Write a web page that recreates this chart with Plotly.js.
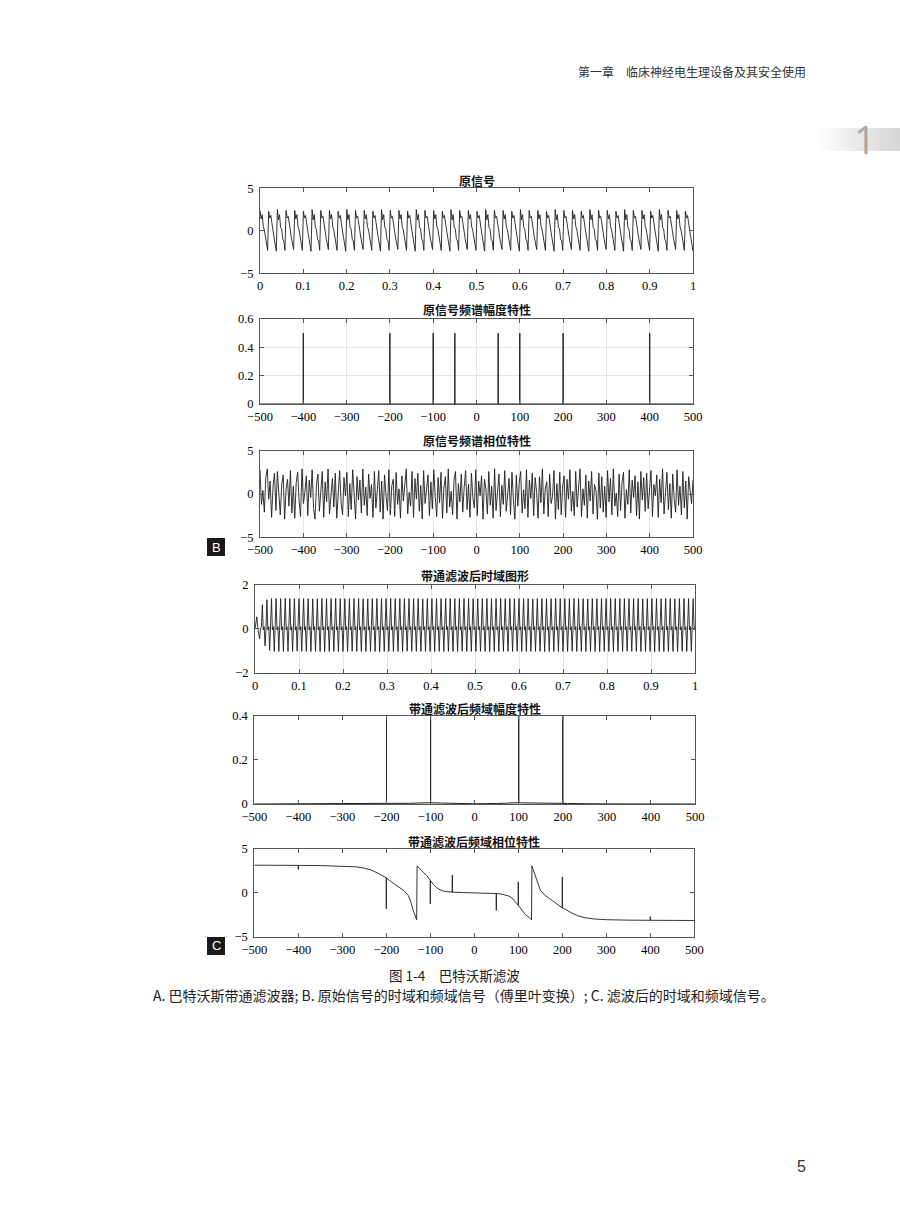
<!DOCTYPE html>
<html>
<head>
<meta charset="utf-8">
<script src="https://cdn.plot.ly/plotly-3.0.1.min.js"></script>
<style>html,body{margin:0;padding:0;background:#fff;}#chart{width:900px;height:1222px;}</style>
</head>
<body>
<div id="chart"></div>
<script>
// ---------------- DATA ----------------
// 1. 原信号 (time domain, 0..1 s)
const origSignal = [
2.4,1.4,1.9,0.5,0.1,-0.9,-1.3,-2.3, 2.3,1.5,1.8,0.6,0.0,-0.8,-1.4,-2.4,
2.5,1.3,1.9,0.4,0.2,-1.0,-1.2,-2.3, 2.4,1.5,1.7,0.5,0.0,-0.9,-1.4,-2.2,
2.4,1.4,1.9,0.5,0.1,-0.9,-1.3,-2.3, 2.3,1.5,1.8,0.6,0.0,-0.8,-1.4,-2.4,
2.5,1.3,1.9,0.4,0.2,-1.0,-1.2,-2.3, 2.4,1.5,1.7,0.5,0.0,-0.9,-1.4,-2.2,
2.4,1.4,1.9,0.5,0.1,-0.9,-1.3,-2.3, 2.3,1.5,1.8,0.6,0.0,-0.8,-1.4,-2.4,
2.5,1.3,1.9,0.4,0.2,-1.0,-1.2,-2.3, 2.4,1.5,1.7,0.5,0.0,-0.9,-1.4,-2.2,
2.4,1.4,1.9,0.5,0.1,-0.9,-1.3,-2.3, 2.3,1.5,1.8,0.6,0.0,-0.8,-1.4,-2.4,
2.5,1.3,1.9,0.4,0.2,-1.0,-1.2,-2.3, 2.4,1.5,1.7,0.5,0.0,-0.9,-1.4,-2.2,
2.4,1.4,1.9,0.5,0.1,-0.9,-1.3,-2.3, 2.3,1.5,1.8,0.6,0.0,-0.8,-1.4,-2.4,
2.5,1.3,1.9,0.4,0.2,-1.0,-1.2,-2.3, 2.4,1.5,1.7,0.5,0.0,-0.9,-1.4,-2.2,
2.4,1.4,1.9,0.5,0.1,-0.9,-1.3,-2.3, 2.3,1.5,1.8,0.6,0.0,-0.8,-1.4,-2.4,
2.5,1.3,1.9,0.4,0.2,-1.0,-1.2,-2.3, 2.4,1.5,1.7,0.5,0.0,-0.9,-1.4,-2.2,
2.4,1.4,1.9,0.5,0.1,-0.9,-1.3,-2.3, 2.3,1.5,1.8,0.6,0.0,-0.8,-1.4,-2.4,
2.5,1.3,1.9,0.4,0.2,-1.0,-1.2,-2.3, 2.4,1.5,1.7,0.5,0.0,-0.9,-1.4,-2.2,
2.4,1.4,1.9,0.5,0.1,-0.9,-1.3,-2.3, 2.3,1.5,1.8,0.6,0.0,-0.8,-1.4,-2.4,
2.5,1.3,1.9,0.4,0.2,-1.0,-1.2,-2.3, 2.4,1.5,1.7,0.5,0.0,-0.9,-1.4,-2.2,
2.4,1.4,1.9,0.5,0.1,-0.9,-1.3,-2.3, 2.3,1.5,1.8,0.6,0.0,-0.8,-1.4,-2.4,
2.5,1.3,1.9,0.4,0.2,-1.0,-1.2,-2.3, 2.4,1.5,1.7,0.5,0.0,-0.9,-1.4,-2.2,
2.4,1.4,1.9,0.5,0.1,-0.9,-1.3,-2.3, 2.3,1.5,1.8,0.6,0.0,-0.8,-1.4,-2.4,
2.5,1.3,1.9,0.4,0.2,-1.0,-1.2,-2.3, 2.4,1.5,1.7,0.5,0.0,-0.9,-1.4,-2.2,
2.4,1.4,1.9,0.5,0.1,-0.9,-1.3,-2.3, 2.3,1.5,1.8,0.6,0.0,-0.8,-1.4,-2.4,
2.5,1.3,1.9,0.4,0.2,-1.0,-1.2,-2.3, 2.4,1.5,1.7,0.5,0.0,-0.9,-1.4,-2.2,
2.4,1.4,1.9,0.5,0.1,-0.9,-1.3,-2.3, 2.3,1.5,1.8,0.6,0.0,-0.8,-1.4,-2.4,
2.5,1.3,1.9,0.4,0.2,-1.0,-1.2,-2.3, 2.4,1.5,1.7,0.5,0.0,-0.9,-1.4,-2.2,
2.4,1.4,1.9,0.5,0.1,-0.9,-1.3,-2.3, 2.3,1.5,1.8,0.6,0.0,-0.8,-1.4,-2.4
];

// 2. 原信号频谱幅度特性 (spectral lines)
const origSpecFreq = [-400, -200, -100, -50, 50, 100, 200, 400];
const origSpecAmp  = [0.5, 0.5, 0.5, 0.5, 0.5, 0.5, 0.5, 0.5];

// 3. 原信号频谱相位特性 (-500..500 Hz)
const origPhase = [
2.8,-1.2,0.4,-2.1,1.9,2.9,-0.6,1.5,-2.7,0.8,2.4,-1.9,2.6,-0.3,-2.4,1.1,2.2,-2.9,0.5,1.7,
-1.4,2.7,-2.2,0.9,-2.8,1.3,2.5,-0.8,-2.6,2.9,-1.1,0.2,2.1,-2.5,1.6,-0.4,2.8,-1.7,-2.9,1.0,
2.3,-2.0,0.7,2.6,-2.7,1.4,-0.9,2.9,-2.3,0.3,1.8,-1.5,2.4,-2.8,0.6,2.7,-1.0,-2.4,1.9,-0.2,
2.5,-2.6,1.2,-1.8,2.8,0.1,-2.9,2.0,-0.7,1.6,-2.2,2.9,-1.3,0.8,-2.5,2.3,-0.5,1.1,-2.7,2.6,
-1.6,0.4,2.7,-2.1,1.5,-2.9,2.2,-0.1,-1.9,2.8,-2.4,0.9,1.7,-2.6,2.5,-1.2,0.6,-2.8,2.1,-0.8,
1.3,2.9,-2.3,0.2,-1.4,2.6,-2.7,1.8,-0.6,2.4,-2.0,1.0,-2.9,2.7,-1.1,0.5,2.2,-2.5,1.4,-1.7,
2.8,-0.3,-2.6,1.9,-1.0,2.5,-2.8,0.7,2.0,-2.2,2.9,-1.5,0.3,-2.4,1.6,2.6,-2.9,1.2,-0.9,2.3,
-2.1,0.8,2.7,-1.8,1.1,-2.7,2.4,-0.4,-1.6,2.8,-2.5,1.5,-0.2,2.1,-2.9,1.7,0.6,-2.3,2.6,-1.3,
0.9,-2.8,2.9,-1.9,0.4,2.3,-2.6,1.0,-1.2,2.7,-2.0,0.1,1.8,-2.4,2.5,-0.7,-2.9,2.2,-1.4,1.3,
2.6,-2.2,0.5,-1.7,2.8,-2.7,1.6,-0.5,2.4,-2.5,1.9,0.2,-2.8,2.0,-1.0,2.9,-2.3,0.7,1.4,-2.6,
2.3,-1.1,-0.3,2.7,-2.9,1.2,-1.8,2.5,-2.4,0.8,2.1,-2.7,1.7,-0.6,2.8,-2.0,0.3,-2.5,2.6,-1.5,
1.0,2.9,-2.6,0.6,-1.3,2.2,-2.8,1.5,-0.8,2.6,-2.3,1.1,0.4,-2.9,2.4,-1.6,2.0,-2.1,0.9,-2.7,
2.7,-0.9,1.8,-2.4,2.9,-1.4,0.1,-2.6,2.3,-1.9,1.3,2.5,-2.8,0.5,-1.2,2.8,-2.2,1.6,-0.4,2.1,
-2.5,1.4,-2.9,2.6,-0.7,1.9,-2.0,2.4,-1.7,0.6,2.7,-2.6,1.1,-0.2,2.2,-2.7,1.7,-1.0,2.9,-2.3,
0.8,2.5,-1.8,1.2,-2.8,2.3,-0.6,-2.1,2.8,-1.3,0.9,-2.4,2.6,-1.6,1.5,-2.9,2.0,0.3,-1.1,1.6
];

// 4. 带通滤波后时域图形 (0..1 s, 2 ms steps)
const filtSignal = [
0,0.3,0.55,0.05,-0.15,-0.45,0,0.1,1.1,-0.05,0.1,-0.78,0.05,1.33,-0.05,0.1,-0.98,0.05,
1.38,-.05,.1,-1.03,.05,1.38,-.05,.1,-1.03,.05,1.38,-.05,.1,-1.03,.05,1.39,-.05,.1,-1.03,.05,
1.38,-.05,.1,-1.03,.05,1.38,-.05,.1,-1.02,.05,1.38,-.05,.1,-1.03,.05,1.38,-.05,.1,-1.03,.05,
1.38,-.05,.1,-1.03,.05,1.37,-.05,.1,-1.03,.05,1.38,-.05,.1,-1.03,.05,1.38,-.05,.1,-1.04,.05,
1.38,-.05,.1,-1.03,.05,1.38,-.05,.1,-1.03,.05,1.39,-.05,.1,-1.03,.05,1.38,-.05,.1,-1.03,.05,
1.38,-.05,.1,-1.03,.05,1.38,-.05,.1,-1.02,.05,1.38,-.05,.1,-1.03,.05,1.38,-.05,.1,-1.03,.05,
1.38,-.05,.1,-1.03,.05,1.37,-.05,.1,-1.03,.05,1.38,-.05,.1,-1.03,.05,1.38,-.05,.1,-1.04,.05,
1.38,-.05,.1,-1.03,.05,1.38,-.05,.1,-1.03,.05,1.39,-.05,.1,-1.03,.05,1.38,-.05,.1,-1.03,.05,
1.38,-.05,.1,-1.03,.05,1.38,-.05,.1,-1.02,.05,1.38,-.05,.1,-1.03,.05,1.38,-.05,.1,-1.03,.05,
1.38,-.05,.1,-1.03,.05,1.37,-.05,.1,-1.03,.05,1.38,-.05,.1,-1.03,.05,1.38,-.05,.1,-1.04,.05,
1.38,-.05,.1,-1.03,.05,1.38,-.05,.1,-1.03,.05,1.39,-.05,.1,-1.03,.05,1.38,-.05,.1,-1.03,.05,
1.38,-.05,.1,-1.03,.05,1.38,-.05,.1,-1.02,.05,1.38,-.05,.1,-1.03,.05,1.38,-.05,.1,-1.03,.05,
1.38,-.05,.1,-1.03,.05,1.37,-.05,.1,-1.03,.05,1.38,-.05,.1,-1.03,.05,1.38,-.05,.1,-1.04,.05,
1.38,-.05,.1,-1.03,.05,1.38,-.05,.1,-1.03,.05,1.39,-.05,.1,-1.03,.05,1.38,-.05,.1,-1.03,.05,
1.38,-.05,.1,-1.03,.05,1.38,-.05,.1,-1.02,.05,1.38,-.05,.1,-1.03,.05,1.38,-.05,.1,-1.03,.05,
1.38,-.05,.1,-1.03,.05,1.37,-.05,.1,-1.03,.05,1.38,-.05,.1,-1.03,.05,1.38,-.05,.1,-1.04,.05,
1.38,-.05,.1,-1.03,.05,1.38,-.05,.1,-1.03,.05,1.39,-.05,.1,-1.03,.05,1.38,-.05,.1,-1.03,.05,
1.38,-.05,.1,-1.03,.05,1.38,-.05,.1,-1.02,.05,1.38,-.05,.1,-1.03,.05,1.38,-.05,.1,-1.03,.05,
1.38,-.05,.1,-1.03,.05,1.37,-.05,.1,-1.03,.05,1.38,-.05,.1,-1.03,.05,1.38,-.05,.1,-1.04,.05,
1.38,-.05,.1,-1.03,.05,1.38,-.05,.1,-1.03,.05,1.39,-.05,.1,-1.03,.05,1.38,-.05,.1,-1.03,.05,
1.38,-.05,.1,-1.03,.05,1.38,-.05,.1,-1.02,.05,1.38,-.05,.1,-1.03,.05,1.38,-.05,.1,-1.03,.05,
1.38,-.05,.1,-1.03,.05,1.37,-.05,.1,-1.03,.05,1.38,-.05,.1,-1.03,.05,1.38,-.05,.1,-1.04,.05,
1.38,-.05,.1,-1.03,.05,1.38,-.05,.1,-1.03,.05,1.39,-.05,.1,-1.03,.05,1.38,-.05,.1,-1.03,.05,
1.38,-.05,.1,-1.03,.05,1.38,-.05,.1,-1.02,.05,1.38,-.05,.1,-1.03,.05,1.38,-.05,.1,-1.03,.05,
1.38,-.05,.1
];

// 5. 带通滤波后频域幅度特性
const filtSpecFreq = [-500,-300,-250,-210,-200,-200,-200,-150,-110,-100,-100,-100,-90,-50,0,50,90,100,100,100,110,150,200,200,200,210,250,300,500];
const filtSpecAmp  = [0,0.0005,0.001,0.002,0.003,0.5,0.003,0.003,0.005,0.006,0.5,0.006,0.005,0.002,0.001,0.002,0.005,0.006,0.5,0.006,0.005,0.003,0.003,0.5,0.003,0.002,0.001,0.0005,0];

// 6. 带通滤波后频域相位特性
const filtPhaseFreq = [-500,-450,-400,-400,-400,-350,-300,-270,-250,-235,-220,-210,-200,-200,-200,-190,-180,-170,-160,-150,-145,-140,-136,-132,-131,
  -130,-125,-116,-108,-100,-100,-100,-93,-86,-78,-70,-60,-50,-50,-50,-25,0,25,50,50,50,60,70,78,86,93,100,100,100,108,116,125,130,
  131,132,136,140,145,150,160,170,180,190,200,200,200,210,220,235,250,270,300,350,400,400,400,450,500];
const filtPhaseVal = [3.13,3.12,3.11,2.65,3.11,3.09,3.04,2.95,2.8,2.6,2.25,1.95,1.7,-1.8,1.7,1.3,0.95,0.6,0.25,-0.3,-0.9,-1.8,-2.4,-2.9,-3.05,
  3.05,2.8,2.45,1.95,1.4,-1.25,1.4,0.95,0.6,0.35,0.2,0.12,0.08,2.0,0.08,0.03,0,-0.03,-0.08,-2.0,-0.08,-0.12,-0.2,-0.35,-0.6,-0.95,-1.4,1.25,-1.4,-1.95,-2.45,-2.8,-3.05,
  3.05,2.9,2.4,1.8,0.9,0.3,-0.25,-0.6,-0.95,-1.3,-1.7,1.8,-1.7,-1.95,-2.25,-2.6,-2.8,-2.95,-3.04,-3.09,-3.11,-2.7,-3.11,-3.12,-3.13];

// tick labels
const timeTickVals = [0,0.1,0.2,0.3,0.4,0.5,0.6,0.7,0.8,0.9,1];
const timeTickText = ['0','0.1','0.2','0.3','0.4','0.5','0.6','0.7','0.8','0.9','1'];
const freqTickVals = [-500,-400,-300,-200,-100,0,100,200,300,400,500];
const freqTickText = ['\u2212500','\u2212400','\u2212300','\u2212200','\u2212100','0','100','200','300','400','500'];

const titles = ['原信号','原信号频谱幅度特性','原信号频谱相位特性','带通滤波后时域图形','带通滤波后频域幅度特性','带通滤波后频域相位特性'];

// ---------------- LAYOUT ----------------
const W = 900, H = 1222;
const fx = p => p / W;
const fy = p => 1 - p / H;
// plot boxes in page pixels: [left, right, top, bottom]
const boxes = [
  [260, 693, 188.3, 273.3],
  [260, 693, 319, 404],
  [260, 693, 450.7, 537.3],
  [255, 695, 585, 672.7],
  [254.3, 695, 715.7, 804],
  [254.3, 694.3, 848.7, 937]
];
const titleY = [180, 309, 440, 575, 708, 841];

const tickFont = {family: 'Liberation Serif, Times New Roman, serif', size: 12.5, color: '#000'};
function xAxis(i, vals, text, range, grid) {
  const b = boxes[i];
  return {domain: [fx(b[0]), fx(b[1])], range: range, tickmode: 'array', tickvals: vals, ticktext: text,
    ticks: 'inside', ticklen: 4, tickwidth: 1, tickcolor: '#555', showline: true, linecolor: '#555', linewidth: 1,
    mirror: 'ticks', showgrid: grid, gridcolor: '#e6e6e6', gridwidth: 1, zeroline: false, tickfont: tickFont,
    anchor: i === 0 ? 'y' : 'y' + (i + 1), fixedrange: true, ticklabelstandoff: 1};
}
function yAxis(i, vals, text, range, grid) {
  const b = boxes[i];
  return {domain: [fy(b[3]), fy(b[2])], range: range, tickmode: 'array', tickvals: vals, ticktext: text,
    ticks: 'inside', ticklen: 4, tickwidth: 1, tickcolor: '#555', showline: true, linecolor: '#555', linewidth: 1,
    mirror: 'ticks', showgrid: grid, gridcolor: '#e6e6e6', gridwidth: 1, zeroline: false, tickfont: tickFont,
    anchor: i === 0 ? 'x' : 'x' + (i + 1), fixedrange: true, ticklabelstandoff: 3};
}

// spectral line trace built from the spectral arrays
const specX = [-500], specY = [0];
origSpecFreq.forEach((f, k) => { specX.push(f, f, f); specY.push(0, origSpecAmp[k], 0); });
specX.push(500); specY.push(0);

const lineStyle = {color: '#1e1e1e', width: 0.9};
const data = [
  {type: 'scatter', mode: 'lines', x0: 0, dx: 1 / (origSignal.length - 1), y: origSignal, xaxis: 'x', yaxis: 'y', line: lineStyle, hoverinfo: 'skip'},
  {type: 'scatter', mode: 'lines', x: specX, y: specY, xaxis: 'x2', yaxis: 'y2', line: {color: '#1e1e1e', width: 1}, hoverinfo: 'skip'},
  {type: 'scatter', mode: 'lines', x0: -500, dx: 1000 / (origPhase.length - 1), y: origPhase, xaxis: 'x3', yaxis: 'y3', line: lineStyle, hoverinfo: 'skip'},
  {type: 'scatter', mode: 'lines', x0: 0, dx: 1 / (filtSignal.length - 1), y: filtSignal, xaxis: 'x4', yaxis: 'y4', line: lineStyle, hoverinfo: 'skip'},
  {type: 'scatter', mode: 'lines', x: filtSpecFreq, y: filtSpecAmp, xaxis: 'x5', yaxis: 'y5', line: {color: '#1e1e1e', width: 1}, hoverinfo: 'skip'},
  {type: 'scatter', mode: 'lines', x: filtPhaseFreq, y: filtPhaseVal, xaxis: 'x6', yaxis: 'y6', line: {color: '#1e1e1e', width: 0.9}, hoverinfo: 'skip'}
];

const cjk = 'Noto Sans CJK SC, sans-serif';
const annotations = titles.map((t, i) => ({
  text: t, xref: 'paper', yref: 'paper', x: fx((boxes[i][0] + boxes[i][1]) / 2), y: fy(titleY[i]),
  xanchor: 'center', yanchor: 'middle', showarrow: false, font: {family: cjk, size: 12, color: '#111', weight: 'bold'}
}));
annotations.push(
  {text: '第一章\u3000临床神经电生理设备及其安全使用', xref: 'paper', yref: 'paper', x: fx(576), y: fy(72), xanchor: 'left', yanchor: 'middle', showarrow: false, font: {family: cjk, size: 12, color: '#333'}},
  {text: '1', xref: 'paper', yref: 'paper', x: fx(865), y: fy(139), xanchor: 'center', yanchor: 'middle', showarrow: false, font: {family: 'Open Sans, sans-serif', size: 38, color: '#a9a9a9', weight: 400}},
  {text: 'B', xref: 'paper', yref: 'paper', x: fx(216), y: fy(547), xanchor: 'center', yanchor: 'middle', showarrow: false, font: {family: 'Liberation Sans, sans-serif', size: 13, color: '#fff'}},
  {text: 'C', xref: 'paper', yref: 'paper', x: fx(216), y: fy(946), xanchor: 'center', yanchor: 'middle', showarrow: false, font: {family: 'Liberation Sans, sans-serif', size: 13, color: '#fff'}},
  {text: '图 1-4\u3000巴特沃斯滤波', xref: 'paper', yref: 'paper', x: fx(454), y: fy(975), xanchor: 'center', yanchor: 'middle', showarrow: false, font: {family: cjk, size: 13.5, color: '#222'}},
  {text: 'A. 巴特沃斯带通滤波器; B. 原始信号的时域和频域信号（傅里叶变换）; C. 滤波后的时域和频域信号。', xref: 'paper', yref: 'paper', x: fx(464), y: fy(995), xanchor: 'center', yanchor: 'middle', showarrow: false, font: {family: cjk, size: 14, color: '#222'}},
  {text: '5', xref: 'paper', yref: 'paper', x: fx(801), y: fy(1166), xanchor: 'center', yanchor: 'middle', showarrow: false, font: {family: 'Liberation Sans, sans-serif', size: 16, color: '#333'}}
);

const shapes = [];
// gradient tab (page decoration)
const tabL = 817, tabR = 900, steps = 24;
for (let s = 0; s < steps; s++) {
  const g = Math.round(253 - (253 - 214) * (s / (steps - 1)));
  shapes.push({type: 'rect', xref: 'paper', yref: 'paper', layer: 'below',
    x0: fx(tabL + (tabR - tabL) * s / steps), x1: fx(tabL + (tabR - tabL) * (s + 1) / steps + 0.5),
    y0: fy(151), y1: fy(128), line: {width: 0}, fillcolor: `rgb(${g},${g},${g})`});
}
shapes.push(
  {type: 'rect', xref: 'paper', yref: 'paper', x0: fx(207), x1: fx(225), y0: fy(556), y1: fy(538), line: {width: 0}, fillcolor: '#1a1a1a'},
  {type: 'rect', xref: 'paper', yref: 'paper', x0: fx(207), x1: fx(225), y0: fy(955), y1: fy(937), line: {width: 0}, fillcolor: '#1a1a1a'}
);

const layout = {
  width: W, height: H, margin: {l: 0, r: 0, t: 0, b: 0}, paper_bgcolor: '#fff', plot_bgcolor: '#fff', showlegend: false,
  xaxis:  xAxis(0, timeTickVals, timeTickText, [0, 1], false),
  yaxis:  yAxis(0, [-5, 0, 5], ['\u22125', '0', '5'], [-5, 5], false),
  xaxis2: xAxis(1, freqTickVals, freqTickText, [-500, 500], true),
  yaxis2: yAxis(1, [0, 0.2, 0.4, 0.6], ['0', '0.2', '0.4', '0.6'], [0, 0.6], true),
  xaxis3: xAxis(2, freqTickVals, freqTickText, [-500, 500], true),
  yaxis3: yAxis(2, [-5, 0, 5], ['\u22125', '0', '5'], [-5, 5], true),
  xaxis4: xAxis(3, timeTickVals, timeTickText, [0, 1], true),
  yaxis4: yAxis(3, [-2, 0, 2], ['\u22122', '0', '2'], [-2, 2], true),
  xaxis5: xAxis(4, freqTickVals, freqTickText, [-500, 500], false),
  yaxis5: yAxis(4, [0, 0.2, 0.4], ['0', '0.2', '0.4'], [0, 0.4], false),
  xaxis6: xAxis(5, freqTickVals, freqTickText, [-500, 500], false),
  yaxis6: yAxis(5, [-5, 0, 5], ['\u22125', '0', '5'], [-5, 5], false),
  annotations: annotations, shapes: shapes
};

Plotly.newPlot('chart', data, layout, {staticPlot: true, displayModeBar: false});
</script>
</body>
</html>
